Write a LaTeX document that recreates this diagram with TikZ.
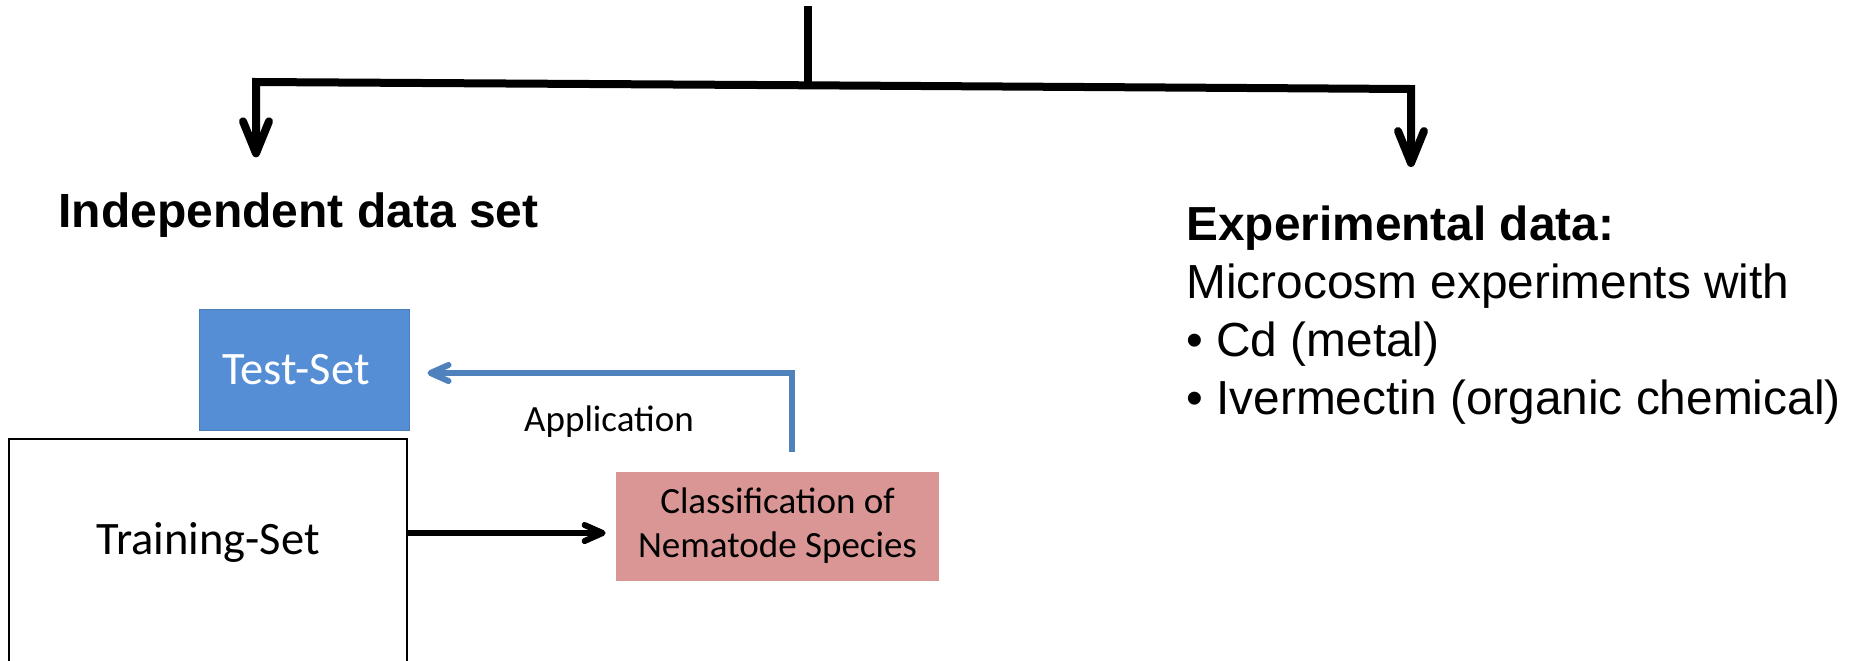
\documentclass[tikz,border=0pt]{standalone}
\usepackage{fontspec}
\usepackage{xcolor}
\usepackage{tikz}
\usetikzlibrary{arrows.meta}

\newfontfamily\arialfont{Liberation Sans}
\newfontfamily\calibrifont{Carlito}

\definecolor{testblue}{HTML}{558ED5}
\definecolor{testedge}{HTML}{4A7EBB}
\definecolor{linkblue}{HTML}{4F81BD}
\definecolor{classpink}{HTML}{D99694}

\begin{document}
\begin{tikzpicture}[x=0.5pt, y=-0.5pt,
	treeline/.style={line width=4pt, line join=miter},
	treearrow/.style={treeline, -{Straight Barb[length=16pt, width=13pt, round]}},
	flowarrow/.style={line width=3pt, -{Straight Barb[length=9pt, width=8pt, round]}},
	boxtext/.style={font=\calibrifont\fontsize{23.25}{28}\selectfont},
	smalltext/.style={font=\calibrifont\fontsize{18.5}{22}\selectfont}]

\useasboundingbox (0,0) rectangle (1854,660);

% the two branches
\node[anchor=base west, inner sep=0, font=\arialfont\bfseries\fontsize{24}{28.8}\selectfont] (indep) at (58,227) {Independent data set};

\node[anchor=north west, inner sep=0, align=left, font=\arialfont\fontsize{23.9}{29}\selectfont] (expt) at (1186,205)
	{\textbf{Experimental data:}\\Microcosm experiments with\\\textbullet\ Cd (metal)\\\textbullet\ Ivermectin (organic chemical)};

\coordinate (root) at (808,6);
\coordinate (join) at (808,85.3);
\coordinate (bl) at (256,82);
\coordinate (br) at (1411,89);

\draw[treeline] (root) -- (join);
\draw[treearrow, shorten >=17.25pt] (join) -- (bl) -- (bl |- indep.north);
\draw[treearrow, shorten >=19pt] (join) -- (br) -- (br |- expt.north);


% test and training
\node[draw=testedge, line width=0.5pt, fill=testblue, text=white, minimum width=105pt, minimum height=60.5pt, inner sep=0, boxtext] (test) at (304,369.5) {\hspace*{-8pt}Test-Set};

\node[draw, line width=1pt, minimum width=199pt, inner sep=0, text height=57.5pt, text depth=63.5pt, anchor=north, boxtext] (train) at (208,438) {Training-Set};

\node[fill=classpink, minimum width=161.5pt, minimum height=54.5pt, inner sep=0, align=center, smalltext] (cls) at (777.5,526) {Classification of\\Nematode Species};

\node[inner sep=0, smalltext] (appl) at (609,422) {Application};

\coordinate (tip) at ([yshift=-3.5pt]cls.west);
\draw[flowarrow, shorten >=5pt] (train.east |- tip) -- (tip);

\draw[flowarrow, linkblue, shorten <=9.75pt, shorten >=9pt] ([xshift=7pt]cls.north) |- ([yshift=-1.75pt]test.east);

\end{tikzpicture}
\end{document}
